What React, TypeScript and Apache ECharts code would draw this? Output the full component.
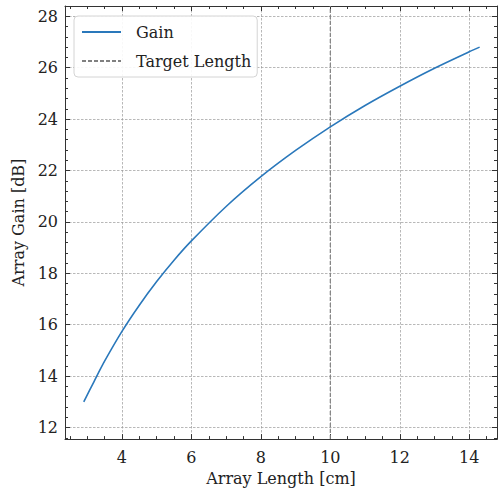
import React, { useEffect, useRef } from "react";
import * as echarts from "echarts";

const lengthsCm = [2.9, 3.2, 3.5, 4.0, 4.5, 5.0, 5.5, 6.0, 7.0, 8.0, 9.0, 10.0, 11.0, 12.0, 13.0, 14.0, 14.3];
const gainDb = [13.0, 13.8, 14.58, 15.74, 16.76, 17.68, 18.51, 19.26, 20.6, 21.76, 22.78, 23.7, 24.53, 25.28, 25.98, 26.62, 26.8];
const targetLength = 10;
const xRange = [2.36, 14.8];
const yRange = [11.55, 28.4];

const FONT = "'DejaVu Serif', 'Liberation Serif', serif";
const AX = "#333";

export default function App() {
  const ref = useRef<HTMLDivElement>(null);
  useEffect(() => {
    const chart = echarts.init(ref.current!, null, { renderer: "svg" });
    const splitLine = { show: true, lineStyle: { color: "#9a9a9a", type: [2.5, 1.5] as any, width: 0.7 } };
    const baseX = {
      type: "value" as const,
      min: xRange[0],
      max: xRange[1],
      splitNumber: 6,
      axisLine: { show: true, onZero: false, lineStyle: { color: AX, width: 1 } },
      axisTick: { show: true, inside: true, length: 5, lineStyle: { color: AX } },
      minorTick: { show: true, splitNumber: 4, length: 3, lineStyle: { color: AX } },
    };
    const baseY = {
      type: "value" as const,
      min: yRange[0],
      max: yRange[1],
      splitNumber: 8,
      axisLine: { show: true, onZero: false, lineStyle: { color: AX, width: 1 } },
      axisTick: { show: true, inside: true, length: 5, lineStyle: { color: AX } },
      minorTick: { show: true, splitNumber: 5, length: 3, lineStyle: { color: AX } },
    };
    chart.setOption({
      animation: false,
      backgroundColor: "#fff",
      textStyle: { fontFamily: FONT },
      grid: { left: 65, right: 2, top: 6, bottom: 51, containLabel: false },
      legend: {
        left: 74,
        top: 16,
        orient: "vertical",
        padding: [8, 6, 8, 7],
        itemWidth: 39,
        itemHeight: 14,
        itemGap: 13,
        backgroundColor: "rgba(255,255,255,0.9)",
        borderColor: "#d4d4d4",
        borderWidth: 1,
        borderRadius: 4,
        itemStyle: { opacity: 0 },
        textStyle: { fontFamily: FONT, fontSize: 16, color: "#222", padding: [0, 0, 0, 10] },
        data: ["Gain", "Target Length"],
      },
      xAxis: [
        {
          ...baseX,
          position: "bottom",
          name: "Array Length [cm]",
          nameLocation: "middle",
          nameGap: 30,
          nameTextStyle: { fontFamily: FONT, fontSize: 16, color: "#222" },
          axisLabel: { show: true, fontFamily: FONT, fontSize: 16, color: "#222", margin: 10, showMinLabel: false, showMaxLabel: false },
          splitLine,
        },
        {
          ...baseX,
          position: "top",
          axisLabel: { show: false },
          splitLine: { show: false },
        },
      ],
      yAxis: [
        {
          ...baseY,
          position: "left",
          name: "Array Gain [dB]",
          nameLocation: "middle",
          nameGap: 37,
          nameTextStyle: { fontFamily: FONT, fontSize: 16, color: "#222" },
          axisLabel: { show: true, fontFamily: FONT, fontSize: 16, color: "#222", margin: 7, showMinLabel: false, showMaxLabel: false },
          splitLine,
        },
        {
          ...baseY,
          position: "right",
          axisLabel: { show: false },
          splitLine: { show: false },
        },
      ],
      series: [
        {
          name: "Gain",
          type: "line",
          xAxisIndex: 0,
          yAxisIndex: 0,
          data: lengthsCm.map((x, i) => [x, gainDb[i]]),
          smooth: 0.3,
          symbol: "none",
          showSymbol: false,
          lineStyle: { color: "#2a78bb", width: 1.6 },
          itemStyle: { color: "#2a78bb" },
          z: 3,
        },
        {
          name: "Target Length",
          type: "line",
          xAxisIndex: 0,
          yAxisIndex: 0,
          data: [
            [targetLength, yRange[0]],
            [targetLength, yRange[1]],
          ],
          symbol: "none",
          showSymbol: false,
          lineStyle: { color: "#808080", width: 1.2, type: [4, 2] as any },
          itemStyle: { color: "#808080" },
          z: 2,
        },
      ],
    });
    return () => chart.dispose();
  }, []);
  return <div ref={ref} style={{ position: "fixed", left: 0, top: 0, width: 499, height: 491 }} />;
}
